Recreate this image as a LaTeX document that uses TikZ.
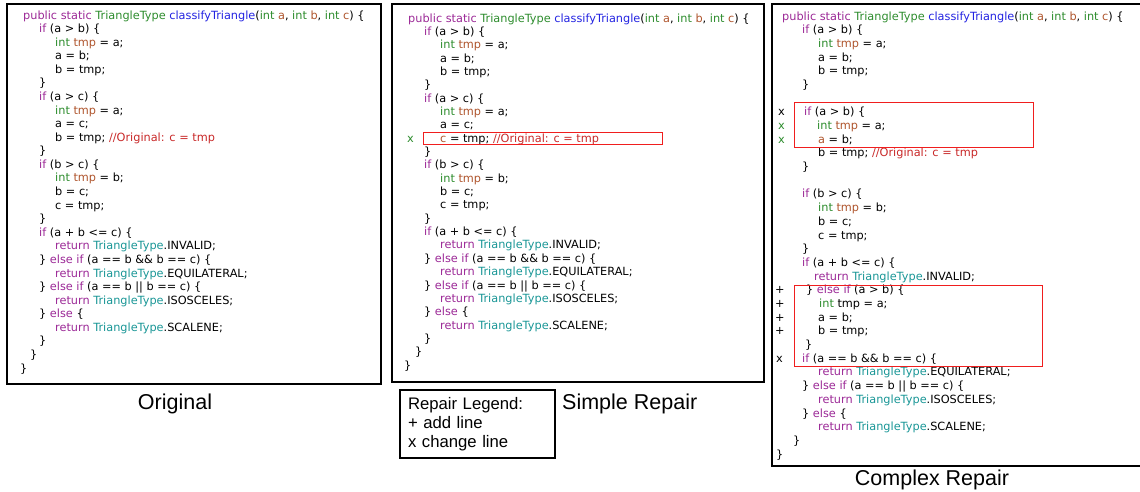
\documentclass[tikz,border=0pt]{standalone}
\usepackage{fontspec}
\setmainfont{DejaVu Sans}
\newfontfamily\capfont{Liberation Sans}

\definecolor{kwpurple}{RGB}{155,40,150}
\definecolor{typegreen}{RGB}{45,140,45}
\definecolor{funblue}{RGB}{35,35,225}
\definecolor{varbrown}{RGB}{175,85,45}
\definecolor{enumteal}{RGB}{25,150,150}
\definecolor{comred}{RGB}{200,40,40}
\definecolor{boxred}{RGB}{240,30,30}

\newcommand{\ckw}[1]{\textcolor{kwpurple}{#1}}
\newcommand{\ctype}[1]{\textcolor{typegreen}{#1}}
\newcommand{\cfun}[1]{\textcolor{funblue}{#1}}
\newcommand{\cvar}[1]{\textcolor{varbrown}{#1}}
\newcommand{\cenum}[1]{\textcolor{enumteal}{#1}}
\newcommand{\ccom}[1]{\textcolor{comred}{#1}}
\newcommand{\header}{\ckw{public static} \ctype{TriangleType} \cfun{classifyTriangle}(\ctype{int} \cvar{a}, \ctype{int} \cvar{b}, \ctype{int} \cvar{c}) \{}

\tikzset{
  codeline/.style={anchor=base west, inner sep=0pt, font=\fontsize{11.3}{13.6}\selectfont},
  panel/.style={draw=black, line width=1.6pt},
  repairbox/.style={draw=boxred, line width=0.9pt},
  caption/.style={anchor=base, inner sep=0pt, font=\capfont\fontsize{21.5}{24}\selectfont},
  legendbox/.style={draw=black, line width=1.6pt, align=left, text width=139pt,
    inner xsep=8pt, minimum height=68pt, font=\capfont\fontsize{16.7}{18.8}\selectfont}
}

\begin{document}
\begin{tikzpicture}[x=1pt, y=-1pt]
\useasboundingbox (0,0) rectangle (1140,491);

% frames
\draw[panel] (7,4) rectangle (381,384);
\draw[panel] (392,4) rectangle (764,382);
\draw[panel] (1141,4) -- (772,4) -- (772,466) -- (1141,466);

% original
\begin{scope}[shift={(0,19)}, y=-13.58pt]
\node[codeline] (o0) at (23,0) {\header};
\node[codeline] (o1) at (39,1) {\ckw{if} (a > b) \{};
\node[codeline] (o2) at (55,2) {\ctype{int} \cvar{tmp} = a;};
\node[codeline] (o3) at (55,3) {a = b;};
\node[codeline] (o4) at (55,4) {b = tmp;};
\node[codeline] (o5) at (39,5) {\}};
\node[codeline] (o6) at (39,6) {\ckw{if} (a > c) \{};
\node[codeline] (o7) at (55,7) {\ctype{int} \cvar{tmp} = a;};
\node[codeline] (o8) at (55,8) {a = c;};
\node[codeline] (o9) at (55,9) {b = tmp; \ccom{//Original: c = tmp}};
\node[codeline] (o10) at (39,10) {\}};
\node[codeline] (o11) at (39,11) {\ckw{if} (b > c) \{};
\node[codeline] (o12) at (55,12) {\ctype{int} \cvar{tmp} = b;};
\node[codeline] (o13) at (55,13) {b = c;};
\node[codeline] (o14) at (55,14) {c = tmp;};
\node[codeline] (o15) at (39,15) {\}};
\node[codeline] (o16) at (39,16) {\ckw{if} (a + b <= c) \{};
\node[codeline] (o17) at (55,17) {\ckw{return} \cenum{TriangleType}.INVALID;};
\node[codeline] (o18) at (39,18) {\} \ckw{else if} (a == b \&\& b == c) \{};
\node[codeline] (o19) at (55,19) {\ckw{return} \cenum{TriangleType}.EQUILATERAL;};
\node[codeline] (o20) at (39,20) {\} \ckw{else if} (a == b || b == c) \{};
\node[codeline] (o21) at (55,21) {\ckw{return} \cenum{TriangleType}.ISOSCELES;};
\node[codeline] (o22) at (39,22) {\} \ckw{else} \{};
\node[codeline] (o23) at (55,23) {\ckw{return} \cenum{TriangleType}.SCALENE;};
\node[codeline] (o24) at (39,24) {\}};
\node[codeline] (o25) at (30,25) {\}};
\node[codeline] (o26) at (20,26) {\}};
\end{scope}

% simple repair
\begin{scope}[shift={(0,22)}, y=-13.35pt]
\node[codeline] (s0) at (408,0) {\header};
\node[codeline] (s1) at (424,1) {\ckw{if} (a > b) \{};
\node[codeline] (s2) at (440,2) {\ctype{int} \cvar{tmp} = a;};
\node[codeline] (s3) at (440,3) {a = b;};
\node[codeline] (s4) at (440,4) {b = tmp;};
\node[codeline] (s5) at (424,5) {\}};
\node[codeline] (s6) at (424,6) {\ckw{if} (a > c) \{};
\node[codeline] (s7) at (440,7) {\ctype{int} \cvar{tmp} = a;};
\node[codeline] (s8) at (440,8) {a = c;};
\node[codeline] (s9) at (440,9) {\cvar{c} = tmp; \ccom{//Original: c = tmp}};
\node[codeline, text=typegreen] (sx9) at (407,9) {x};
\node[codeline] (s10) at (424,10) {\}};
\node[codeline] (s11) at (424,11) {\ckw{if} (b > c) \{};
\node[codeline] (s12) at (440,12) {\ctype{int} \cvar{tmp} = b;};
\node[codeline] (s13) at (440,13) {b = c;};
\node[codeline] (s14) at (440,14) {c = tmp;};
\node[codeline] (s15) at (424,15) {\}};
\node[codeline] (s16) at (424,16) {\ckw{if} (a + b <= c) \{};
\node[codeline] (s17) at (440,17) {\ckw{return} \cenum{TriangleType}.INVALID;};
\node[codeline] (s18) at (424,18) {\} \ckw{else if} (a == b \&\& b == c) \{};
\node[codeline] (s19) at (440,19) {\ckw{return} \cenum{TriangleType}.EQUILATERAL;};
\node[codeline] (s20) at (424,20) {\} \ckw{else if} (a == b || b == c) \{};
\node[codeline] (s21) at (440,21) {\ckw{return} \cenum{TriangleType}.ISOSCELES;};
\node[codeline] (s22) at (424,22) {\} \ckw{else} \{};
\node[codeline] (s23) at (440,23) {\ckw{return} \cenum{TriangleType}.SCALENE;};
\node[codeline] (s24) at (424,24) {\}};
\node[codeline] (s25) at (415,25) {\}};
\node[codeline] (s26) at (404,26) {\}};
\end{scope}
\draw[repairbox] (423,132) rectangle (662,144);

% complex repair
\begin{scope}[shift={(0,20)}, y=-13.69pt]
\node[codeline] (c0) at (782,0) {\header};
\node[codeline] (c1) at (802,1) {\ckw{if} (a > b) \{};
\node[codeline] (c2) at (818,2) {\ctype{int} \cvar{tmp} = a;};
\node[codeline] (c3) at (818,3) {a = b;};
\node[codeline] (c4) at (818,4) {b = tmp;};
\node[codeline] (c5) at (802,5) {\}};
\node[codeline] (c7) at (804,7) {\ckw{if} (a > b) \{};
\node[codeline] (c8) at (817,8) {\ctype{int} \cvar{tmp} = a;};
\node[codeline] (c9) at (818,9) {\cvar{a} = b;};
\node[codeline] (c10) at (818,10) {b = tmp; \ccom{//Original: c = tmp}};
\node[codeline] (c11) at (802,11) {\}};
\node[codeline] (c13) at (802,13) {\ckw{if} (b > c) \{};
\node[codeline] (c14) at (818,14) {\ctype{int} \cvar{tmp} = b;};
\node[codeline] (c15) at (818,15) {b = c;};
\node[codeline] (c16) at (818,16) {c = tmp;};
\node[codeline] (c17) at (802,17) {\}};
\node[codeline] (c18) at (802,18) {\ckw{if} (a + b <= c) \{};
\node[codeline] (c19) at (814,19) {\ckw{return} \cenum{TriangleType}.INVALID;};
\node[codeline] (c20) at (806,20) {\} \ckw{else if} (a > b) \{};
\node[codeline] (c21) at (819,21) {\ctype{int} tmp = a;};
\node[codeline] (c22) at (818,22) {a = b;};
\node[codeline] (c23) at (818,23) {b = tmp;};
\node[codeline] (c24) at (805,24) {\}};
\node[codeline] (c25) at (802,25) {\ckw{if} (a == b \&\& b == c) \{};
\node[codeline] (c26) at (818,26) {\ckw{return} \cenum{TriangleType}.EQUILATERAL;};
\node[codeline] (c27) at (802,27) {\} \ckw{else if} (a == b || b == c) \{};
\node[codeline] (c28) at (818,28) {\ckw{return} \cenum{TriangleType}.ISOSCELES;};
\node[codeline] (c29) at (802,29) {\} \ckw{else} \{};
\node[codeline] (c30) at (818,30) {\ckw{return} \cenum{TriangleType}.SCALENE;};
\node[codeline] (c31) at (793,31) {\}};
\node[codeline] (c32) at (776,32) {\}};
% repair marks
\node[codeline] (cx7) at (778,7) {x};
\node[codeline, text=typegreen] (cx8) at (778,8) {x};
\node[codeline, text=typegreen] (cx9) at (778,9) {x};
\node[codeline] (cp20) at (775,20) {+};
\node[codeline] (cp21) at (775,21) {+};
\node[codeline] (cp22) at (775,22) {+};
\node[codeline] (cp23) at (775,23) {+};
\node[codeline] (cx25) at (776,25) {x};
\end{scope}
\draw[repairbox] (794,102) rectangle (1033,147);
\draw[repairbox] (794,285) rectangle (1042,366);

% captions and legend
\node[caption] (origcap) at (175,409) {Original};
\node[caption, anchor=base west] (simplecap) at (562,409) {Simple Repair};
\node[caption] (complexcap) at (932,485) {Complex Repair};
\node[legendbox, font=\capfont\fontsize{16.7}{19}\selectfont] (legend) at (477.5,424) {Repair Legend:\\+ add line\\x change line};
\end{tikzpicture}
\end{document}
